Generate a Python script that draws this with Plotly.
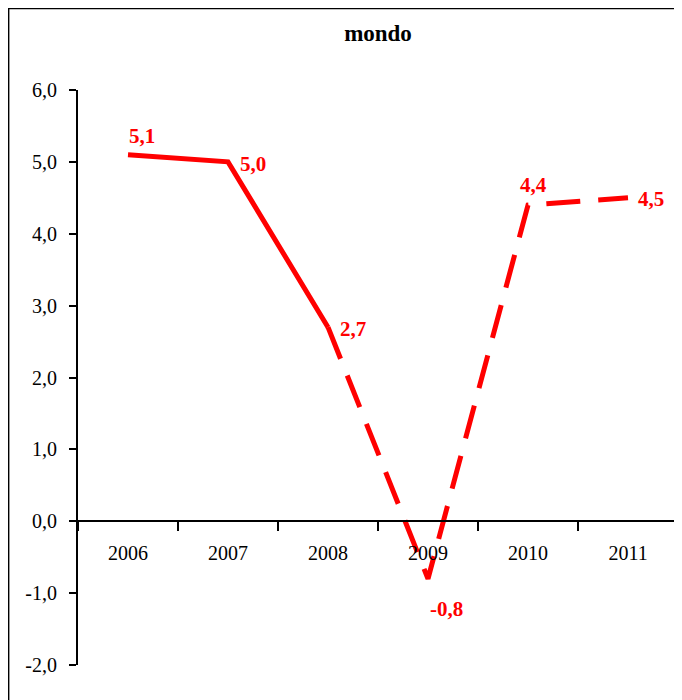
import plotly.graph_objects as go

years = ["2006", "2007", "2008", "2009", "2010", "2011"]
values = [5.1, 5.0, 2.7, -0.8, 4.4, 4.5]
labels = ["5,1", "5,0", "2,7", "-0,8", "4,4", "4,5"]
n_solid = 3  # first three points are actual data, rest is dashed

y_ticks = [-2, -1, 0, 1, 2, 3, 4, 5, 6]
y_ticktext = ["-2,0", "-1,0", "0,0", "1,0", "2,0", "3,0", "4,0", "5,0", "6,0"]

# where each value label sits relative to its point (pixels)
label_offsets = [(-1, 19), (10, -2), (10, -2), (0, -30), (-10, 20), (8, -1)]

serif = "Liberation Serif"
red = "#ff0000"

fig = go.Figure()
fig.add_trace(go.Scatter(
    x=years[:n_solid], y=values[:n_solid], mode="lines",
    line=dict(color=red, width=5), hoverinfo="skip"))
fig.add_trace(go.Scatter(
    x=years[n_solid - 1:], y=values[n_solid - 1:], mode="lines",
    line=dict(color=red, width=5, dash="34px,18px"), hoverinfo="skip"))

for i, (v, lab, (dx, dy)) in enumerate(zip(values, labels, label_offsets)):
    fig.add_annotation(x=i, y=v, xref="x", yref="y", text="<b>%s</b>" % lab,
                       showarrow=False, xanchor="left", yanchor="middle",
                       xshift=dx, yshift=dy,
                       font=dict(family=serif, size=21, color=red))

# outer frame, its right and bottom sides fall off the page
fig.add_shape(type="rect", xref="paper", yref="paper",
              x0=-0.116, x1=1.1, y0=-0.1, y1=1.142,
              line=dict(color="black", width=2), layer="below")

fig.update_layout(
    width=674, height=692,
    margin=dict(l=70, r=4, t=82, b=35),
    paper_bgcolor="white", plot_bgcolor="white",
    showlegend=False,
    font=dict(family=serif, size=20, color="black"),
    title=dict(text="<b>mondo</b>", x=0.5, xref="paper", xanchor="center",
               y=0.964, yanchor="middle", font=dict(family=serif, size=23)),
    xaxis=dict(type="category", range=[-0.5, 5.5], anchor="free", position=0.25,
               showline=True, linecolor="black", linewidth=2,
               ticks="outside", tickson="boundaries", ticklen=9, tickwidth=2,
               tickcolor="black", showgrid=False, zeroline=False,
               ticklabelstandoff=14,
               tickfont=dict(family=serif, size=20)),
    yaxis=dict(range=[-2, 6], tickvals=y_ticks, ticktext=y_ticktext,
               showline=True, linecolor="black", linewidth=2,
               ticks="outside", ticklen=7, tickwidth=2, tickcolor="black",
               showgrid=False, zeroline=False, ticklabelstandoff=8,
               tickfont=dict(family=serif, size=20)),
)

fig.write_html("out.html")
